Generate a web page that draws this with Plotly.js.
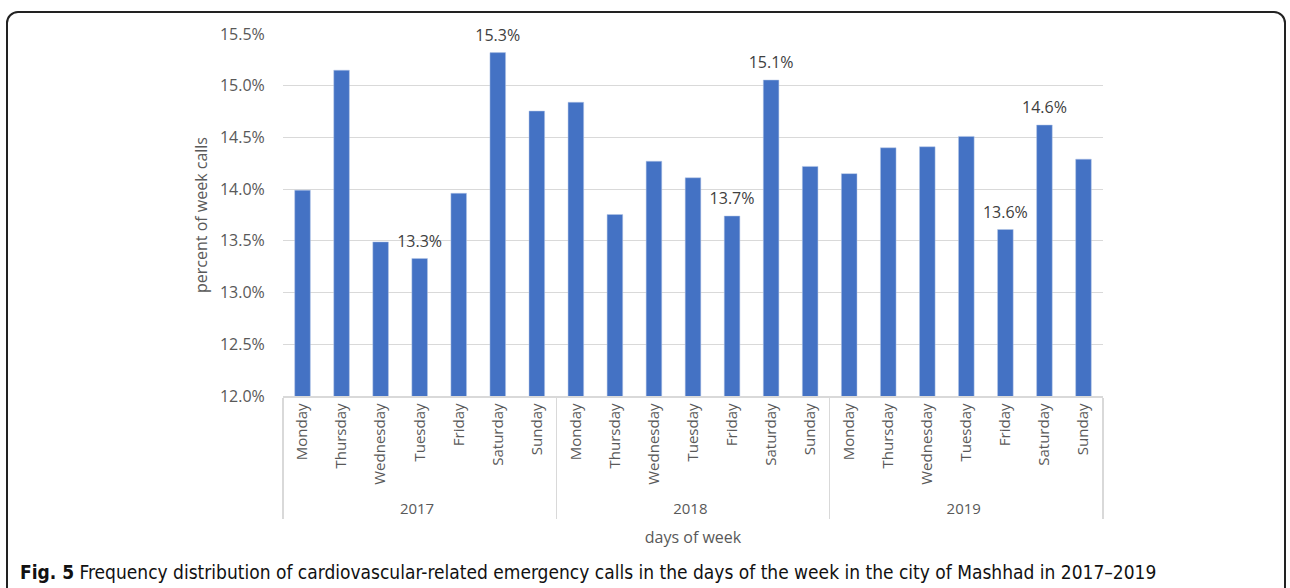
<!DOCTYPE html>
<html>
<head>
<meta charset="utf-8">
<script src="https://cdn.plot.ly/plotly-3.0.1.min.js"></script>
<style>
  html, body { margin: 0; padding: 0; background: #fff; }
  #wrap { position: relative; width: 1290px; height: 588px; overflow: hidden; }
  #frame { position: absolute; left: 6px; top: 11px; width: 1280px; height: 640px;
           border: 2px solid #222; border-radius: 12px; box-sizing: border-box; }
  #chart { position: absolute; left: 0; top: 0; width: 1290px; height: 588px; }
  #caption { position: absolute; left: 20px; top: 561px; font-family: "Liberation Sans Narrow", "DejaVu Sans Condensed", sans-serif;
             font-size: 19px; color: #111; white-space: nowrap; }
  #caption b { font-weight: bold; }
</style>
</head>
<body>
<div id="wrap">
  <div id="frame"></div>
  <div id="chart"></div>
  <div id="caption"><b>Fig. 5</b> Frequency distribution of cardiovascular-related emergency calls in the days of the week in the city of Mashhad in 2017–2019</div>
</div>
<script>
const years = ["2017", "2018", "2019"];
const days = ["Monday", "Thursday", "Wednesday", "Tuesday", "Friday", "Saturday", "Sunday"];
const values2017 = [13.99, 15.15, 13.49, 13.33, 13.96, 15.32, 14.755];
const values2018 = [14.84, 13.755, 14.27, 14.11, 13.74, 15.055, 14.22];
const values2019 = [14.15, 14.40, 14.41, 14.51, 13.61, 14.62, 14.29];
const labels2017 = ["", "", "", "13.3%", "", "15.3%", ""];
const labels2018 = ["", "", "", "", "13.7%", "15.1%", ""];
const labels2019 = ["", "", "", "", "13.6%", "14.6%", ""];

const allValues = [values2017, values2018, values2019];
const allLabels = [labels2017, labels2018, labels2019];
const xYear = [], xDay = [], yVals = [], tVals = [];
years.forEach((yr, i) => {
  days.forEach((d, j) => {
    xYear.push(yr); xDay.push(d);
    yVals.push(allValues[i][j]); tVals.push(allLabels[i][j]);
  });
});

const font = "Open Sans, sans-serif";
const bars = {
  type: "bar",
  x: [xYear, xDay],
  y: yVals,
  marker: { color: "#4472c4", line: { color: "#b4c7e7", width: 0.5 } },
  hoverinfo: "skip"
};
const labelsTrace = {
  type: "scatter",
  mode: "markers+text",
  x: [xYear, xDay],
  y: yVals,
  text: tVals,
  textposition: "top center",
  textfont: { family: font, size: 16, color: "#404040" },
  marker: { size: 11, color: "rgba(0,0,0,0)" },
  hoverinfo: "skip",
  cliponaxis: false
};

const layout = {
  width: 1290, height: 588,
  margin: { l: 283, r: 187, t: 34, b: 192 },
  paper_bgcolor: "rgba(0,0,0,0)",
  plot_bgcolor: "rgba(0,0,0,0)",
  showlegend: false,
  bargap: 0.6,
  font: { family: font, color: "#595959", size: 16 },
  yaxis: {
    range: [12, 15.5], dtick: 0.5, tick0: 12,
    tickformat: ".1f", ticksuffix: "%",
    showgrid: true, gridcolor: "#d9d9d9", gridwidth: 1,
    zeroline: false, showline: false,
    ticks: "outside", ticklen: 14, tickcolor: "rgba(0,0,0,0)",
    tickfont: { family: font, size: 16, color: "#595959" },
    title: { text: "percent of week calls", font: { family: font, size: 16, color: "#595959" }, standoff: 8 }
  },
  xaxis: {
    type: "multicategory",
    range: [-0.5, 20.5],
    autorange: false,
    tickangle: -90,
    showline: true, linecolor: "#d9d9d9", linewidth: 1.5,
    showdividers: true, dividercolor: "#d9d9d9", dividerwidth: 1.5,
    ticks: "",
    tickfont: { family: font, size: 15, color: "#595959" },
    title: { text: "days of week", font: { family: font, size: 16, color: "#595959" }, standoff: 14 }
  }
};

Plotly.newPlot("chart", [bars, labelsTrace], layout, { displayModeBar: false, staticPlot: true });
</script>
</body>
</html>
